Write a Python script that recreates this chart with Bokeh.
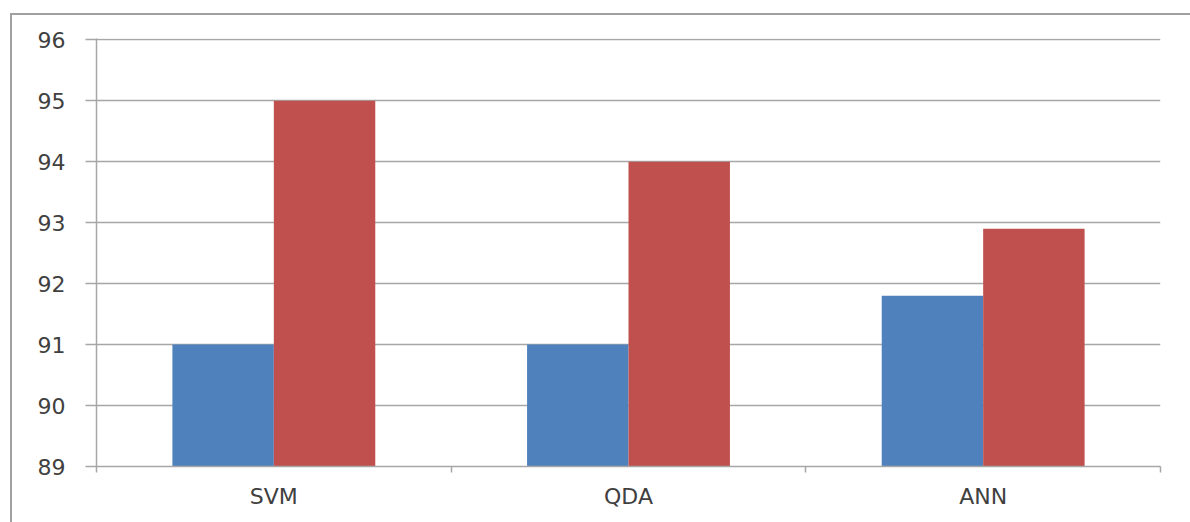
from bokeh.plotting import figure
from bokeh.layouts import column
from bokeh.models import FixedTicker, ColumnDataSource
from bokeh.embed import file_html
from bokeh.resources import INLINE

# Accuracy (%) per classifier, two series
categories = ["SVM", "QDA", "ANN"]
series_a = [91.0, 91.0, 91.8]
series_b = [95.0, 94.0, 92.9]
y_ticks = [89, 90, 91, 92, 93, 94, 95, 96]

BLUE = "#4F81BD"
RED = "#C0504D"
GRID = "#A6A6A6"
TEXT = "#404040"
FONT = "DejaVu Sans"

bar_w = 0.286
centers = [i + 0.5 for i in range(len(categories))]

src_a = ColumnDataSource(dict(x=[c - bar_w / 2 for c in centers], top=series_a))
src_b = ColumnDataSource(dict(x=[c + bar_w / 2 for c in centers], top=series_b))

p = figure(
    width=1178, height=507,
    x_range=(0, len(categories)), y_range=(y_ticks[0], y_ticks[-1] + 0.02),
    output_backend="svg", toolbar_location=None,
    min_border_left=84, min_border_right=30,
    min_border_top=23, min_border_bottom=56,
)
p.outline_line_color = None
p.background_fill_color = "white"
p.border_fill_color = "white"

p.vbar(x="x", top="top", bottom=y_ticks[0], width=bar_w, source=src_a,
       fill_color=BLUE, line_color=None)
p.vbar(x="x", top="top", bottom=y_ticks[0], width=bar_w, source=src_b,
       fill_color=RED, line_color=None)

# y axis
p.yaxis.ticker = FixedTicker(ticks=y_ticks)
p.yaxis.axis_line_color = GRID
p.yaxis.axis_line_width = 1.5
p.yaxis.major_tick_line_color = GRID
p.yaxis.major_tick_line_width = 1.5
p.yaxis.major_tick_out = 11
p.yaxis.major_tick_in = 0
p.yaxis.minor_tick_line_color = None
p.yaxis.major_label_standoff = 20
p.yaxis.major_label_text_font = FONT
p.yaxis.major_label_text_font_size = "22px"
p.yaxis.major_label_text_color = TEXT

# x axis: labels at category centres, ticks at category boundaries
p.xaxis.ticker = FixedTicker(ticks=centers, minor_ticks=list(range(len(categories) + 1)))
p.xaxis.major_label_overrides = {c: name for c, name in zip(centers, categories)}
p.xaxis.axis_line_color = GRID
p.xaxis.axis_line_width = 1.5
p.xaxis.major_tick_line_color = None
p.xaxis.major_tick_out = 0
p.xaxis.major_tick_in = 0
p.xaxis.minor_tick_line_color = GRID
p.xaxis.minor_tick_line_width = 1.5
p.xaxis.minor_tick_out = 6
p.xaxis.minor_tick_in = 0
p.xaxis.major_label_standoff = 11
p.xaxis.major_label_text_font = FONT
p.xaxis.major_label_text_font_size = "22px"
p.xaxis.major_label_text_color = TEXT

p.xgrid.grid_line_color = None
p.ygrid.ticker = FixedTicker(ticks=y_ticks)
p.ygrid.grid_line_color = GRID
p.ygrid.grid_line_width = 1.5
p.ygrid.level = "underlay"

# chart frame: top and left edges only
page = column(p, styles={"margin-left": "10px", "margin-top": "13px",
                         "border-top": "2px solid #A0A0A0",
                         "border-left": "2px solid #A0A0A0"})

open("out.html", "w").write(file_html(page, INLINE))
